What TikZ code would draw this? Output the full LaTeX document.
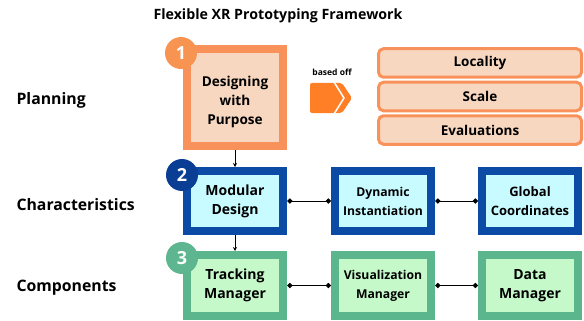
\documentclass[tikz,border=0pt]{standalone}
\usepackage{fontspec}
\setmainfont{Open Sans}
\usetikzlibrary{arrows.meta,positioning}

\definecolor{orangeline}{HTML}{F9925A}
\definecolor{orangedot}{HTML}{F79452}
\definecolor{peach}{HTML}{F8D7C0}
\definecolor{chev}{HTML}{FF7F27}
\definecolor{blueline}{HTML}{0B4BA6}
\definecolor{bluedot}{HTML}{0A3E94}
\definecolor{cyanfill}{HTML}{C8FBFF}
\definecolor{greenline}{HTML}{5BB58D}
\definecolor{greendot}{HTML}{5DB68F}
\definecolor{greenfill}{HTML}{C5F9CA}

\tikzset{
  box/.style={line width=8pt, outer sep=4pt, minimum width=96pt, minimum height=60pt,
    inner sep=0pt, align=center, font=\bfseries\fontsize{14}{19}\selectfont},
  planbox/.style={box, draw=orangeline, fill=peach, minimum height=97pt},
  charbox/.style={box, draw=blueline, fill=cyanfill},
  compbox/.style={box, draw=greenline, fill=greenfill, minimum height=61pt},
  num/.style={circle, minimum size=32pt, inner sep=0pt, text=white,
    font=\bfseries\fontsize{18}{18}\selectfont},
  tagbox/.style={draw=orangeline, fill=peach, line width=3pt, outer sep=1.5pt,
    rounded corners=5pt, minimum width=203pt, minimum height=28.5pt,
    font=\bfseries\fontsize{13.5}{15}\selectfont},
  rowlabel/.style={anchor=west, font=\bfseries\fontsize{15.8}{18}\selectfont},
  link/.style={{Diamond[length=5.5pt,width=5.5pt]}-{Diamond[length=5.5pt,width=5.5pt]}, line width=1pt},
  down/.style={-{Stealth[length=4pt,width=4pt]}, line width=1pt},
}

\begin{document}
\begin{tikzpicture}[x=1pt, y=-1pt]
    \useasboundingbox (0,0) rectangle (584,321);

    % title
    \node (title) at (278,16) {\bfseries\fontsize{14.2}{16}\selectfont Flexible XR Prototyping Framework};

    % row labels
    \node[rowlabel] (planning) at (13,100) {Planning};
    \node[rowlabel] (charac) at (13,205) {Characteristics};
    \node[rowlabel] (compo) at (13,288) {Components};

    % planning
    \node[planbox] (purpose) at (235,97.5) {};
    \node[align=center, font=\bfseries\fontsize{13.6}{19}\selectfont] (purposetxt) at (235,101.5) {Designing\\with\\Purpose};
    \node[font=\bfseries\fontsize{8.5}{10}\selectfont] (basedoff) at (332,72) {based off};
    \fill[chev, rounded corners=2pt] (310,83) -- (342,83) -- (352,98) -- (342,113) -- (310,113) -- cycle;
    \draw[white, line width=1.5pt] (334,82) -- (344,98) -- (334,114);

    \node[tagbox] (locality) at (480,63) {Locality};
    \node[tagbox, below=2pt of locality] (scale) {Scale};
    \node[tagbox, below=2pt of scale] (evals) {Evaluations};

    % characteristics
    \node[charbox] (modular) at (235,201) {Modular\\Design};
    \node[charbox, right=44pt of modular, font=\bfseries\fontsize{12.2}{19}\selectfont] (dynamic) {Dynamic\\Instantiation};
    \node[charbox, right=43pt of dynamic, font=\bfseries\fontsize{13}{19}\selectfont] (glob) {Global\\Coordinates};

    % components
    \node[compbox] (tracking) at (235,285.5) {Tracking\\Manager};
    \node[compbox, right=44pt of tracking, font=\bfseries\fontsize{12.2}{19}\selectfont] (visu) {Visualization\\Manager};
    \node[compbox, right=43pt of visu] (datam) {Data\\Manager};

    % numbers
    \node[num, fill=orangedot] (n1) at (181,53) {1};
    \node[num, fill=bluedot] (n2) at (182,175) {2};
    \node[num, fill=greendot] (n3) at (182,258) {3};

    % arrows
    \draw[down] (purpose) -- (modular);
    \draw[down] (modular) -- (tracking);
    \draw[link] (modular) -- (dynamic);
    \draw[link] (dynamic) -- (glob);
    \draw[link] (tracking) -- (visu);
    \draw[link] (visu) -- (datam);

\end{tikzpicture}
\end{document}
